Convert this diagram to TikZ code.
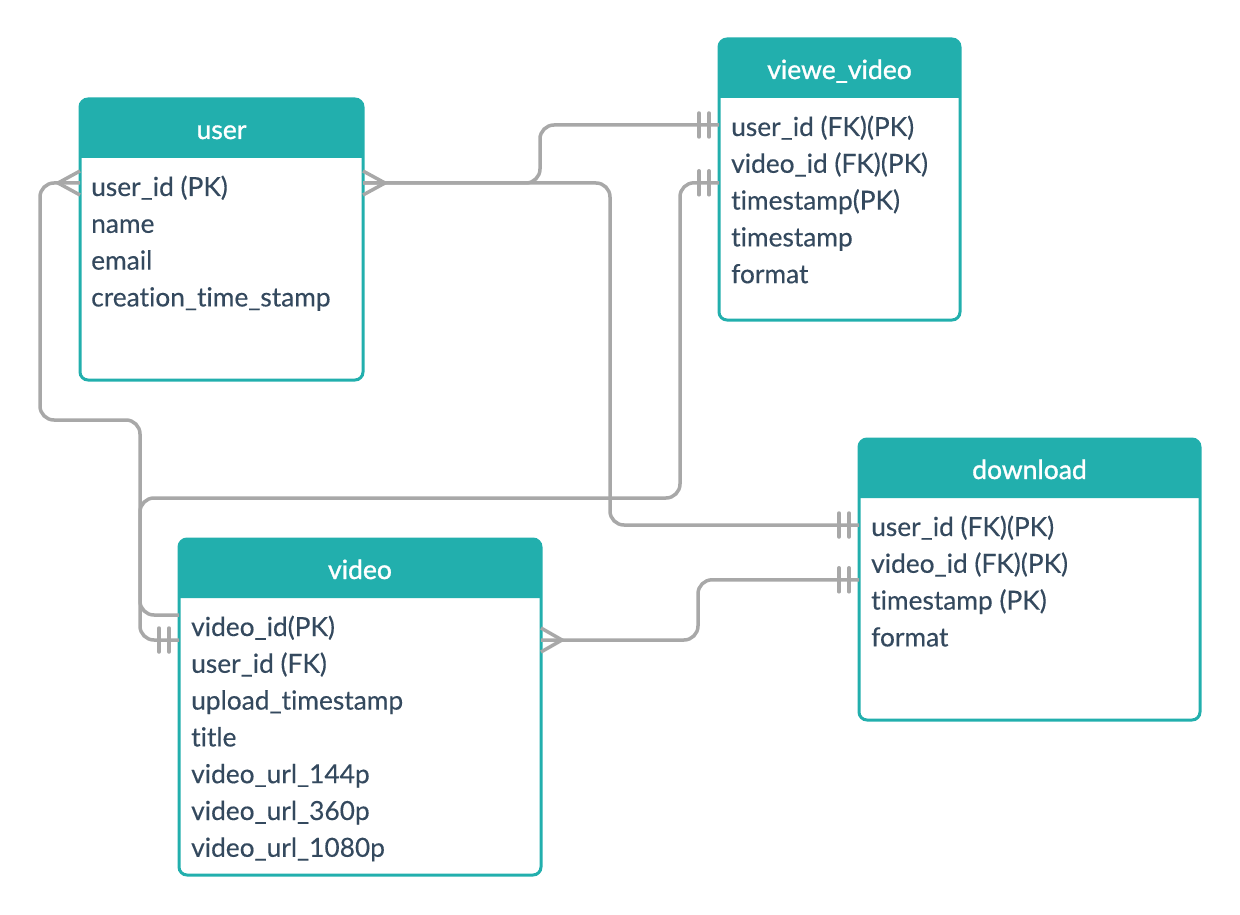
\documentclass[tikz,border=0pt]{standalone}
\usepackage{fontspec}
\setmainfont{Lato}[Ligatures={NoCommon}, FakeBold=0.3]
\newfontfamily\titlefont{Lato}[Ligatures={NoCommon}, FakeBold=1.2]
\usepackage{tikz}
\definecolor{tealhead}{HTML}{22AFAD}
\definecolor{rowtext}{HTML}{34495E}
\definecolor{linkgray}{HTML}{A8A8A8}

\begin{document}
\begin{tikzpicture}[x=1pt, y=-1pt,
    tbl/.style={draw=tealhead, line width=3pt, fill=white, rounded corners=8pt, outer sep=0pt, inner sep=0pt},
    head/.style={anchor=base, inner sep=0pt, text=white, font=\titlefont\fontsize{26.5}{30}\selectfont},
    row/.style={anchor=base west, inner sep=0pt, text=rowtext, font=\fontsize{26.3}{30}\selectfont},
    link/.style={draw=linkgray, line width=3.5pt, rounded corners=14pt},
    tick/.style={draw=linkgray, line width=3.5pt}]
    \useasboundingbox (0,0) rectangle (1240,915);

    % tables
    \node[tbl, minimum width=283, minimum height=281] (user) at (221.5,239.5) {};
    \node[tbl, minimum width=241, minimum height=281] (vv) at (839.5,179.5) {};
    \node[tbl, minimum width=341, minimum height=281] (dl) at (1029.5,579.5) {};
    \node[tbl, minimum width=362, minimum height=336] (vd) at (360,707) {};
    \foreach \t in {user,vv,dl,vd}
      \fill[tealhead] ([yshift=-59]\t.north west) [rounded corners=8] -- (\t.north west) -- (\t.north east) [sharp corners] -- ([yshift=-59]\t.north east) -- cycle;

    \node[head] (userh) at ([yshift=-40]user.north) {user};
    \node[head] (vvh) at ([yshift=-40]vv.north) {viewe\_video};
    \node[head] (dlh) at ([yshift=-40]dl.north) {download};
    \node[head] (vdh) at ([yshift=-40]vd.north) {video};

    \foreach \r [count=\i] in {user\_id (PK), name, email, creation\_time\_stamp}
      \node[row] (u\i) at (91,{159.2+36.8*\i}) {\r};
    \foreach \r [count=\i] in {user\_id (FK)(PK), video\_id (FK)(PK), timestamp(PK), timestamp, format}
      \node[row] (w\i) at (731,{99.2+36.8*\i}) {\r};
    \foreach \r [count=\i] in {user\_id (FK)(PK), video\_id (FK)(PK), timestamp (PK), format}
      \node[row] (d\i) at (871,{499.2+36.8*\i}) {\r};
    \foreach \r [count=\i] in {video\_id(PK), user\_id (FK), upload\_timestamp, title, video\_url\_144p, video\_url\_360p, video\_url\_1080p}
      \node[row] (v\i) at (191,{599.2+36.8*\i}) {\r};

    % connector ends
    \coordinate (ua) at ([yshift=13]u1.base -| user.west);
    \coordinate (ub) at ([yshift=13]u1.base -| user.east);
    \coordinate (wa) at ([yshift=11]w1.base -| vv.west);
    \coordinate (wb) at ([yshift=-10]w2.base -| vv.west);
    \coordinate (da) at ([yshift=11]d1.base -| dl.west);
    \coordinate (db) at ([yshift=-7]d2.base -| dl.west);
    \coordinate (va) at ([yshift=21]v1.base -| vd.west);
    \coordinate (vb) at ([yshift=-4]v1.base -| vd.west);
    \coordinate (vc) at ([yshift=-4]v1.base -| vd.east);

    % connectors
    \draw[link] (ua) -| (40,420) -| (140,640) -- (vb);
    \draw[link] (ub) -| (540,150) |- (wa);
    \draw[link] (ub) -| (610,400) |- (da);
    \draw[link] (wb) -| (680,498) -| (140,560) |- (va);
    \draw[link] (vc) -| (698,610) |- (db);

    % crow's feet and bars
    \draw[tick] ([yshift=12]ua) -- ([xshift=-22]ua) -- ([yshift=-12]ua);
    \draw[tick] ([yshift=12]ub) -- ([xshift=22]ub) -- ([yshift=-12]ub);
    \draw[tick] ([yshift=12]vc) -- ([xshift=21]vc) -- ([yshift=-12]vc);
    \foreach \c in {wa,wb,da,db,vb}
      \foreach \d in {10,20}
        \draw[tick, line cap=round] ([xshift=-\d, yshift=12]\c) -- ([xshift=-\d, yshift=-12]\c);
  \end{tikzpicture}
\end{document}
